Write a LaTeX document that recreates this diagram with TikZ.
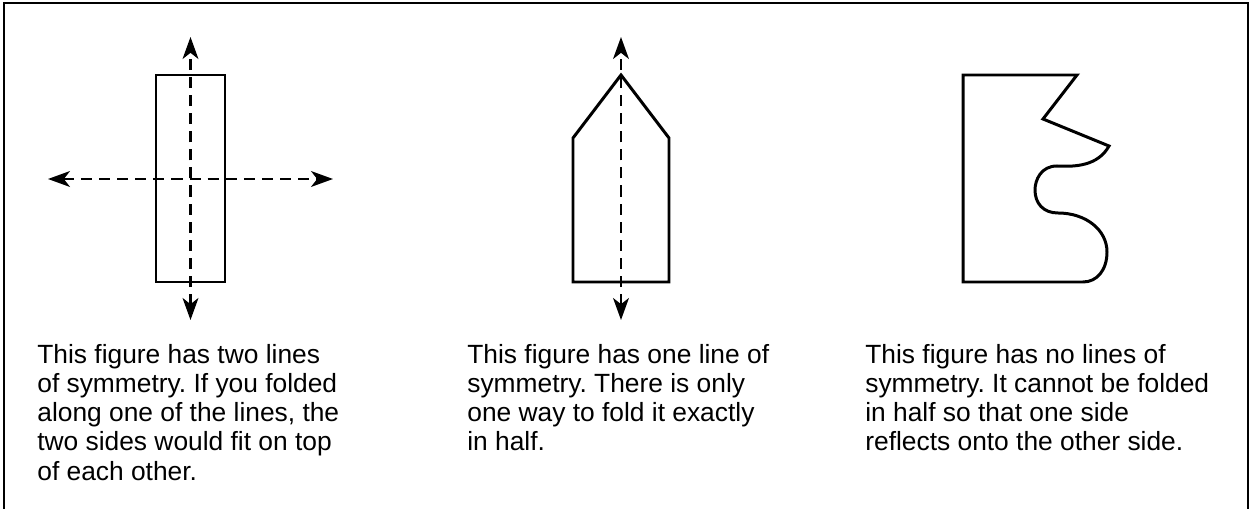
\documentclass[tikz,border=0pt]{standalone}
\usepackage{fontspec}
\setmainfont{Liberation Sans}
\usetikzlibrary{arrows.meta, positioning}
\frenchspacing

\begin{document}
\begin{tikzpicture}[x=0.02cm, y=-0.02cm,
    shapeline/.style={line width=1.7pt, line join=miter},
    symline/.style={line width=1.4pt, dash pattern=on 6.3pt off 4pt,
      {Stealth[length=12.5pt, width=9pt, inset=3.5pt]}-{Stealth[length=12.5pt, width=9pt, inset=3.5pt]}},
    caption/.style={anchor=north west, inner sep=0pt, align=left,
      font=\fontsize{15}{16.6}\selectfont}]
  \useasboundingbox (0,0) rectangle (1255,509);
  \clip (0,0) rectangle (1255,509);
  \draw[line width=1.6pt] (4,3) rectangle (1248,540);

  \draw[shapeline] (156,75) rectangle (225,282);
  \coordinate (vtopA) at (190.5,37);
  \coordinate (vbotA) at (190.5,320);
  \coordinate (hleft) at (48,179);
  \coordinate (hright) at (333,179);
  \draw[symline] (vbotA) -- (vtopA);
  \draw[symline] (hleft) -- (hright);

  \draw[shapeline] (573,282) -- (573,138) -- (621,75) -- (669,138) -- (669,282) -- cycle;
  \coordinate (vtopB) at (621,37);
  \coordinate (vbotB) at (621,320);
  \draw[symline] (vbotB) -- (vtopB);

  \draw[shapeline] (963,75) -- (1077,75) -- (1043,119) -- (1109,146)
    .. controls (1098,166) and (1075,167) .. (1057,166)
    .. controls (1041,166) and (1035,180) .. (1035,190)
    .. controls (1035,203) and (1043,213) .. (1058,213)
    .. controls (1086,213) and (1107,230) .. (1107,252)
    .. controls (1107,270) and (1097,282) .. (1083,282)
    -- (963,282) -- cycle;

  \node[caption] (txtA) at (37,344) {This figure has two lines\\of symmetry. If you folded\\along one of the lines, the\\two sides would fit on top\\of each other.};
  \node[caption] (txtB) at (467,344) {This figure has one line of\\symmetry. There is only\\one way to fold it exactly\\in half.};
  \node[caption] (txtC) at (865,344) {This figure has no lines of\\symmetry. It cannot be folded\\in half so that one side\\reflects onto the other side.};
\end{tikzpicture}
\end{document}
